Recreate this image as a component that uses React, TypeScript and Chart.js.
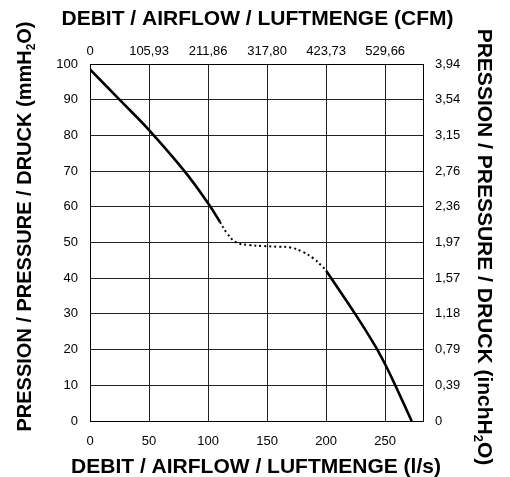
import React, { useEffect, useRef } from "react";
import { Chart, registerables } from "chart.js";

Chart.register(...registerables);

// ---- data ----
const flowTicks = [0, 50, 100, 150, 200, 250];
const cfmTickLabels = ["0", "105,93", "211,86", "317,80", "423,73", "529,66"];
const inchTickLabels = ["0", "0,39", "0,79", "1,18", "1,57", "1,97", "2,36", "2,76", "3,15", "3,54", "3,94"];

const flowSolidA = [0, 25, 50, 80, 100, 110];
const pressSolidA = [98.5, 90, 81.5, 70, 61, 55.8];

const flowDotted = [110, 116, 124, 135, 147, 160, 170, 180, 189, 197, 200];
const pressDotted = [55.8, 52.6, 50.0, 49.3, 49.0, 48.8, 48.6, 47.4, 45.6, 43.2, 42.1];

const flowSolidB = [200, 212, 224.5, 234, 243.3, 251, 258.5, 272.4];
const pressSolidB = [42.1, 36.2, 30, 25.1, 20, 15.2, 10, 0];

const xMax = 282;

const titleTop = "DEBIT / AIRFLOW / LUFTMENGE (CFM)";
const titleBottom = "DEBIT / AIRFLOW / LUFTMENGE (l/s)";
const titleLeftParts = ["PRESSION / PRESSURE / DRUCK (mmH", "2", "O)"];
const titleRightParts = ["PRESSION / PRESSURE / DRUCK (inchH", "2", "O)"];

const FONT = "Arial, 'Liberation Sans', sans-serif";

function pts(xs: number[], ys: number[]) {
  return xs.map((x, i) => ({ x, y: ys[i] }));
}

function drawRich(ctx: CanvasRenderingContext2D, parts: string[], cx: number, cy: number, rot: number, size: number) {
  const big = `bold ${size}px ${FONT}`;
  const small = `bold ${Math.round(size * 0.6)}px ${FONT}`;
  const widths = parts.map((p, i) => {
    ctx.font = i === 1 ? small : big;
    return ctx.measureText(p).width;
  });
  const total = widths.reduce((a, b) => a + b, 0);
  ctx.save();
  ctx.translate(cx, cy);
  ctx.rotate(rot);
  ctx.textBaseline = "middle";
  ctx.textAlign = "left";
  ctx.fillStyle = "#000";
  let x = -total / 2;
  parts.forEach((p, i) => {
    ctx.font = i === 1 ? small : big;
    ctx.fillText(p, x, i === 1 ? size * 0.3 : 0);
    x += widths[i];
  });
  ctx.restore();
}

const titlesPlugin = {
  id: "titlesPlugin",
  afterDraw(chart: any) {
    const ctx = chart.ctx as CanvasRenderingContext2D;
    ctx.save();
    ctx.fillStyle = "#000";
    ctx.font = `bold 21px ${FONT}`;
    ctx.textAlign = "center";
    ctx.textBaseline = "middle";
    ctx.fillText(titleTop, 249.5, 11.5);
    ctx.fillText(titleBottom, 248, 459.5);
    ctx.restore();
    drawRich(ctx, titleLeftParts, 17.8, 218.5, -Math.PI / 2, 20);
    drawRich(ctx, titleRightParts, 476, 239, Math.PI / 2, 21);
  },
};

export default function App() {
  const ref = useRef<HTMLCanvasElement | null>(null);
  useEffect(() => {
    if (!ref.current) return;
    document.documentElement.style.overflow = "hidden";
    document.body.style.overflow = "hidden";
    const tickFont = { family: FONT, size: 13 };
    const setFlowTicks = (s: any) => {
      s.ticks = flowTicks.map((v) => ({ value: v }));
    };
    const chart = new Chart(ref.current, {
      type: "line",
      data: {
        datasets: [
          {
            data: pts(flowSolidA, pressSolidA),
            borderColor: "#000",
            borderWidth: 2.6,
            pointRadius: 0,
            tension: 0.4,
            xAxisID: "x",
            yAxisID: "y",
          },
          {
            data: pts(flowDotted, pressDotted),
            borderColor: "#000",
            borderWidth: 2,
            borderDash: [2, 3],
            pointRadius: 0,
            tension: 0.4,
            xAxisID: "x",
            yAxisID: "y",
          },
          {
            data: pts(flowSolidB, pressSolidB),
            borderColor: "#000",
            borderWidth: 2.6,
            pointRadius: 0,
            tension: 0.4,
            xAxisID: "x",
            yAxisID: "y",
          },
        ],
      },
      options: {
        animation: false,
        responsive: true,
        maintainAspectRatio: false,
        layout: { padding: 0 },
        plugins: { legend: { display: false }, tooltip: { enabled: false } },
        scales: {
          x: {
            type: "linear",
            position: "bottom",
            min: 0,
            max: xMax,
            afterBuildTicks: setFlowTicks,
            afterFit: (s: any) => { s.height = 56; },
            grid: { color: "#222", lineWidth: 1, drawTicks: false },
            border: { display: true, color: "#000", width: 1 },
            ticks: { color: "#000", font: tickFont, padding: 13, maxRotation: 0, autoSkip: false },
          },
          x2: {
            type: "linear",
            position: "top",
            min: 0,
            max: xMax,
            afterBuildTicks: setFlowTicks,
            afterFit: (s: any) => { s.height = 56; },
            grid: { drawOnChartArea: false, drawTicks: false },
            border: { display: true, color: "#000", width: 1 },
            ticks: {
              color: "#000",
              font: tickFont,
              padding: 5,
              maxRotation: 0,
              autoSkip: false,
              callback: (_v: any, i: number) => cfmTickLabels[i],
            },
          },
          y: {
            type: "linear",
            position: "left",
            min: 0,
            max: 100,
            afterFit: (s: any) => { s.width = 82; },
            grid: { color: "#222", lineWidth: 1, drawTicks: false },
            border: { display: true, color: "#000", width: 1 },
            ticks: { color: "#000", font: tickFont, padding: 12, stepSize: 10, autoSkip: false },
          },
          y2: {
            type: "linear",
            position: "right",
            min: 0,
            max: 100,
            afterFit: (s: any) => { s.width = 79; },
            grid: { drawOnChartArea: false, drawTicks: false },
            border: { display: true, color: "#000", width: 1 },
            ticks: {
              color: "#000",
              font: tickFont,
              padding: 12,
              stepSize: 10,
              autoSkip: false,
              callback: (_v: any, i: number) => inchTickLabels[i],
            },
          },
        },
      },
      plugins: [titlesPlugin],
    } as any);
    return () => chart.destroy();
  }, []);
  return (
    <div style={{ position: "relative", width: 494, height: 469 }}>
      <canvas ref={ref} />
    </div>
  );
}
